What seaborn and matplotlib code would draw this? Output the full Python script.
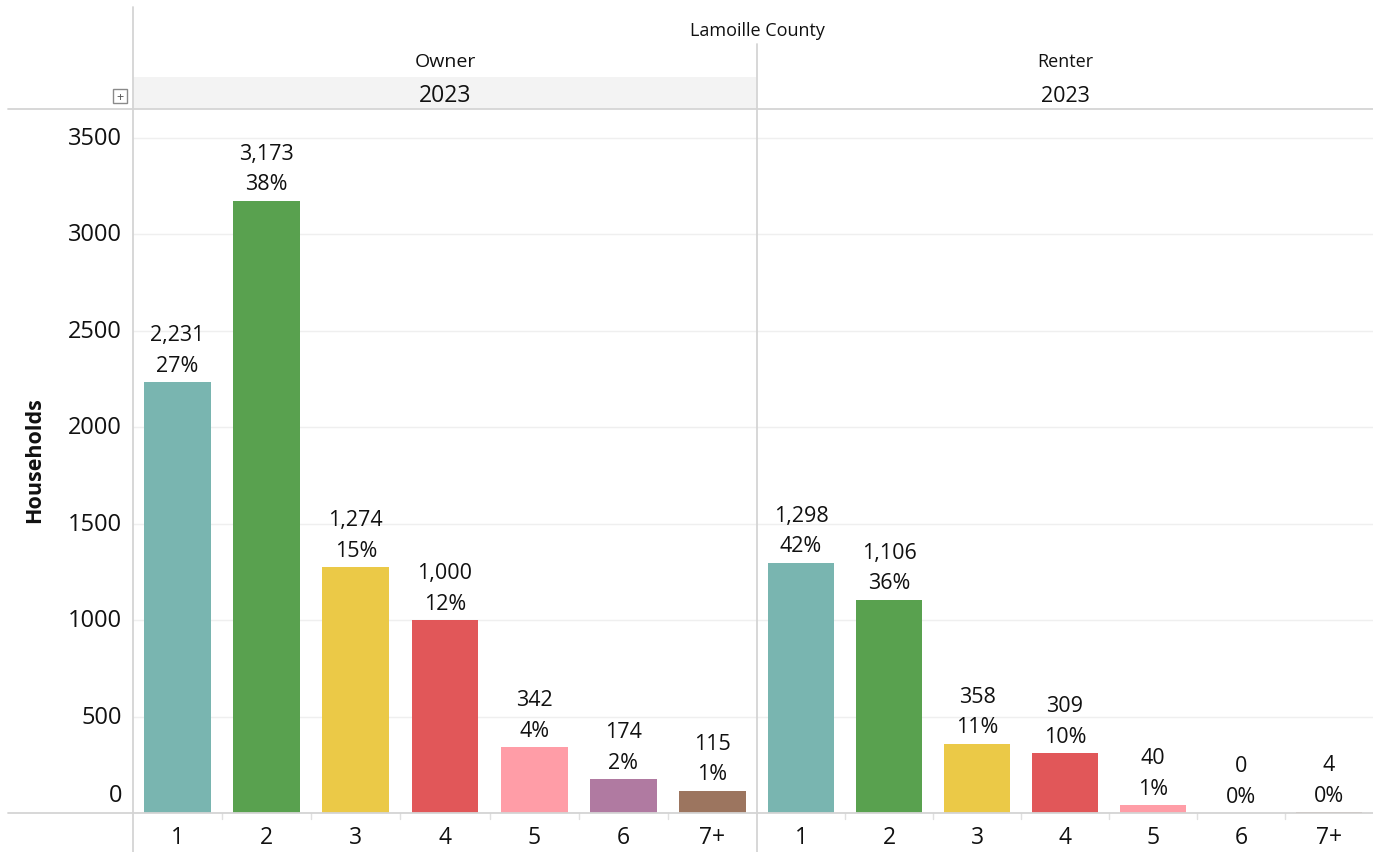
import matplotlib
matplotlib.use("Agg")
import matplotlib.pyplot as plt
import matplotlib.transforms as mtransforms
from matplotlib.lines import Line2D
from matplotlib.patches import Rectangle
import seaborn as sns
import pandas as pd

sns.set_theme(style="white")
plt.rcParams["font.family"] = ["Open Sans", "DejaVu Sans"]

# Household size categories and household counts by tenure
sizes = ["1", "2", "3", "4", "5", "6", "7+"]
owner_households = [2231, 3173, 1274, 1000, 342, 174, 115]
renter_households = [1298, 1106, 358, 309, 40, 0, 4]
y_ticks = [0, 500, 1000, 1500, 2000, 2500, 3000, 3500]
county = "Lamoille County"
year = "2023"
tenures = ["Owner", "Renter"]

palette = ["#79b5b0", "#59a14f", "#ebc947", "#e15759", "#ff9da7", "#b07aa1", "#9c755f"]

W, H = 1373, 853
fig = plt.figure(figsize=(W / 100, H / 100), dpi=100)

def fx(px):
    return px / W

def fy(py):
    return 1 - py / H

top_px, base_px = 110, 814
panels = [(133, 757), (757, 1373)]
ymax = 3648
grid_c = "#efefef"
line_c = "#d4d4d4"
txt_c = "#111111"

for i, (tenure, values) in enumerate(zip(tenures, [owner_households, renter_households])):
    x0, x1 = panels[i]
    ax = fig.add_axes([fx(x0), fy(base_px), fx(x1 - x0), (base_px - top_px) / H])
    df = pd.DataFrame({"size": sizes, "households": values})
    sns.barplot(data=df, x="size", y="households", hue="size", palette=palette,
                legend=False, width=0.75, saturation=1, ax=ax, edgecolor="none")
    ax.set_xlim(-0.5, 6.5)
    ax.set_ylim(0, ymax)
    for s in ax.spines.values():
        s.set_visible(False)
    for t in y_ticks:
        ax.axhline(t, color=grid_c, lw=1, zorder=0)
    ax.set_axisbelow(True)
    ax.set_yticks([])
    ax.set_ylabel("")
    ax.set_xlabel("")
    ax.set_xticks(range(len(sizes)))
    ax.set_xticklabels(sizes, fontsize=16.5, color=txt_c)
    ax.tick_params(axis="x", length=0, pad=9)
    # small separators between categories under the baseline
    for b in range(1, len(sizes)):
        ax.plot([b - 0.5, b - 0.5], [0, -0.009 * ymax], color="#e0e0e0", lw=1,
                clip_on=False, zorder=1)

    total = sum(values)
    for k, v in enumerate(values):
        pct = round(100 * v / total) if total else 0
        ax.annotate(f"{pct}%", (k, v), xytext=(0, 12.2), textcoords="offset points",
                    ha="center", va="center", fontsize=15.5, color=txt_c)
        ax.annotate(f"{v:,}", (k, v), xytext=(0, 34.2), textcoords="offset points",
                    ha="center", va="center", fontsize=15.5, color=txt_c)

    if i == 0:
        for t in y_ticks:
            off = 18 / 100 if t == 0 else 0
            tr = ax.get_yaxis_transform() + mtransforms.ScaledTranslation(-11 / 100, off, fig.dpi_scale_trans)
            ax.text(0, t, f"{t}", transform=tr, ha="right", va="center",
                    fontsize=17, color=txt_c)

    cx = (x0 + x1) / 2
    if i == 0:
        fig.text(fx(cx), fy(62), tenure, ha="center", va="center", fontsize=14, color=txt_c)
        fig.text(fx(cx), fy(96), year, ha="center", va="center", fontsize=16.5, color=txt_c)
    else:
        fig.text(fx(cx), fy(62), tenure, ha="center", va="center", fontsize=13, color=txt_c)
        fig.text(fx(cx), fy(96), year, ha="center", va="center", fontsize=15.5, color=txt_c)

# header band behind the Owner year
fig.add_artist(Rectangle((fx(133), fy(110)), fx(757 - 133), (110 - 78) / H,
                         transform=fig.transFigure, facecolor="#f3f3f3",
                         edgecolor="none", zorder=-1))

fig.text(fx(757), fy(31), county, ha="center", va="center", fontsize=13, color=txt_c)
fig.text(fx(35), fy(460), "Households", rotation=90, ha="center", va="center",
         fontsize=15.5, fontweight="bold", color=txt_c)

# frame lines
fig.add_artist(Line2D([fx(8), 1], [fy(110), fy(110)], color=line_c, lw=1.3))
fig.add_artist(Line2D([fx(8), 1], [fy(814), fy(814)], color=line_c, lw=1.3))
fig.add_artist(Line2D([fx(133), fx(133)], [fy(8), 0], color=line_c, lw=1.3))
fig.add_artist(Line2D([fx(757), fx(757)], [fy(45), 0], color=line_c, lw=1.3))

# collapse icon
fig.add_artist(Rectangle((fx(113), fy(104)), fx(14), 14 / H, transform=fig.transFigure,
                         facecolor="white", edgecolor="#8a8a8a", lw=1))
fig.text(fx(120), fy(97), "+", ha="center", va="center", fontsize=9, color="#555555")

fig.savefig("out.png", dpi=100)
